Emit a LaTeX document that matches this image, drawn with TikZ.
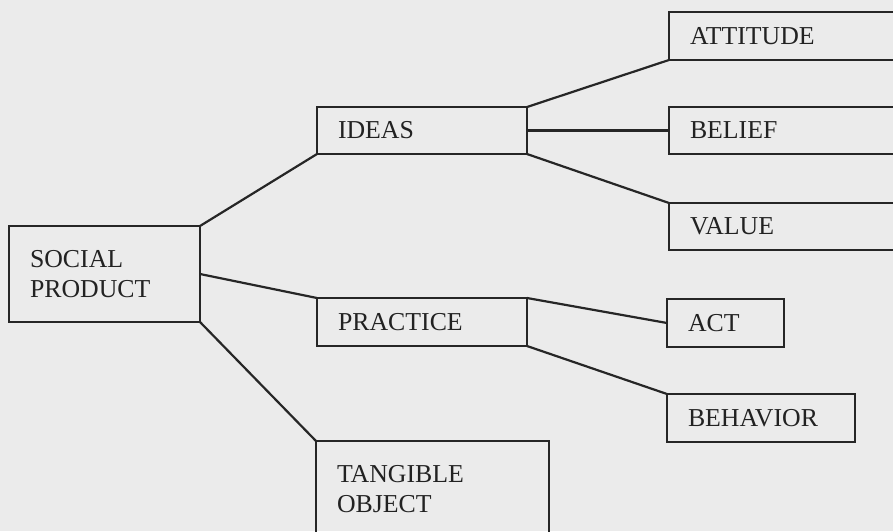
\documentclass[tikz,border=0pt]{standalone}
\usepackage{fontspec}
\setmainfont{Liberation Serif}
\usepackage{xcolor}
\usepackage{tikz}
\usetikzlibrary{positioning}
\definecolor{paper}{HTML}{EBEBEB}
\definecolor{ink}{HTML}{262626}
\tikzstyle{box} = [rectangle, draw=ink, line width=1.1pt, anchor=north west, outer sep=0pt, inner xsep=10.5pt, align=left, text=ink!90!black, font=\fontsize{12.9}{15}\selectfont]
\tikzstyle{link} = [draw=ink, line width=1.1pt]

\begin{document}
\begin{tikzpicture}[x=0.5pt, y=-0.5pt]
\fill[paper] (0,0) rectangle (893,531);
\clip (0,0) rectangle (893,531);
\node (social) [box, text width=74.5pt, minimum height=48pt] at (9,226) {SOCIAL\\PRODUCT};
\node (ideas) [box, text width=84pt, minimum height=23.5pt] at (317,107) {IDEAS};
\node (practice) [box, text width=84pt, minimum height=24pt] at (317,298) {PRACTICE};
\node (tangible) [box, text width=95.5pt, minimum height=48pt] at (316,441) {TANGIBLE\\OBJECT};
\node (attitude) [box, text width=109pt, minimum height=24pt] at (669,12) {ATTITUDE};
\node (belief) [box, text width=109pt, minimum height=23.5pt] at (669,107) {BELIEF};
\node (value) [box, text width=109pt, minimum height=23.5pt] at (669,203) {VALUE};
\node (act) [box, text width=37.5pt, minimum height=24pt] at (667,299) {ACT};
\node (behavior) [box, text width=73pt, minimum height=24pt] at (667,394) {BEHAVIOR};

\draw [link] (social.north east) -- (ideas.south west);
\draw [link] (social.east) -- (practice.north west);
\draw [link] (social.south east) -- (tangible.north west);
\draw [link] (ideas.north east) -- (attitude.south west);
\draw [link] (ideas.east) -- (belief.west);
\draw [link] (ideas.south east) -- (value.north west);
\draw [link] (practice.north east) -- (act.west);
\draw [link] (practice.south east) -- (behavior.north west);
\end{tikzpicture}
\end{document}
